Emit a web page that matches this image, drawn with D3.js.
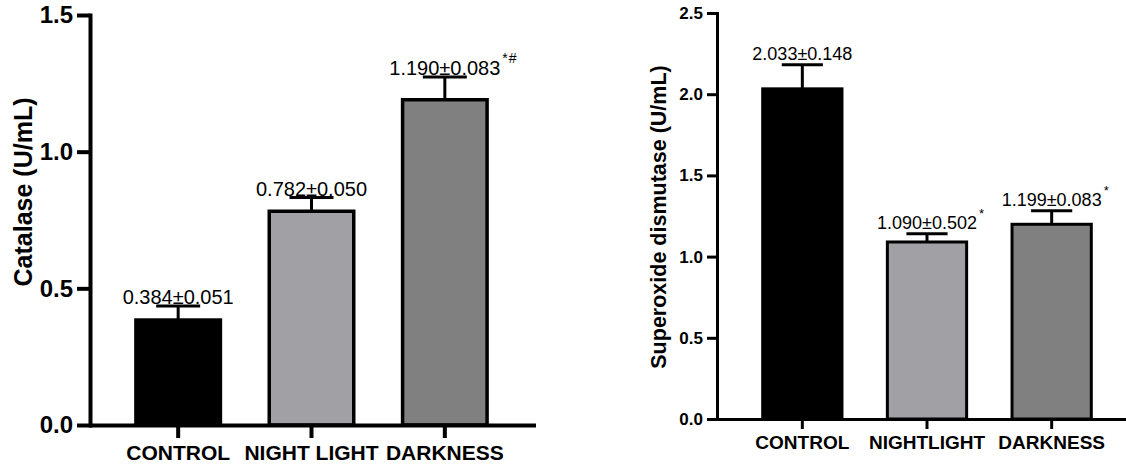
<!DOCTYPE html>
<html>
<head>
<meta charset="utf-8">
<script src="https://cdn.jsdelivr.net/npm/d3@7"></script>
<style>
  body { margin: 0; background: #fff; }
  svg text { font-family: "Liberation Sans", Arial, sans-serif; fill: #000; }
</style>
</head>
<body>
<svg width="1126" height="465"></svg>
<script>
// data
const catalaseGroups = ["CONTROL", "NIGHT LIGHT", "DARKNESS"];
const catalaseMeans = [0.384, 0.782, 1.190];
const catalaseErrors = [0.051, 0.050, 0.083];
const catalaseSig = ["", "", "*#"];
const catalaseTicks = [0, 0.5, 1.0, 1.5];

const sodGroups = ["CONTROL", "NIGHTLIGHT", "DARKNESS"];
const sodMeans = [2.033, 1.090, 1.199];
const sodErrors = [0.148, 0.502, 0.083];     // as printed in the labels
const sodErrorBars = [0.148, 0.050, 0.083];  // as drawn (whisker length)
const sodSig = ["", "*", "*"];
const sodTicks = [0, 0.5, 1.0, 1.5, 2.0, 2.5];

const fills = ["#000000", "#a1a1a5", "#808080"];
const fmt = d3.format(".3f");

const svg = d3.select("svg");

function drawPanel(c) {
  let y = d3.scaleLinear().domain([0, c.ticks[c.ticks.length - 1]])
    .range([c.yBottom, c.yTop]);
  let x = d3.scaleBand().domain(c.groups)
    .range(c.xRange).paddingInner(0.34).paddingOuter(0.17);

  let rows = c.groups.map((g, i) => ({
    g: g, mean: c.means[i], err: c.errors[i], bar: c.bars[i], sig: c.sig[i], fill: fills[i]
  }));

  let g = svg.append("g");

  // bars
  g.selectAll("rect.bar")
    .data(rows)
    .join("rect")
    .attr("class", "bar")
    .attr("x", d => x(d.g) + c.barStroke / 2)
    .attr("y", d => y(d.mean))
    .attr("width", x.bandwidth() - c.barStroke)
    .attr("height", d => y(0) - y(d.mean))
    .style("fill", d => d.fill)
    .style("stroke", "#000")
    .style("stroke-width", c.barStroke);

  // error whiskers
  let cx = d => x(d.g) + x.bandwidth() / 2;
  g.selectAll("line.stem")
    .data(rows)
    .join("line")
    .attr("class", "stem")
    .attr("x1", cx).attr("x2", cx)
    .attr("y1", d => y(d.mean))
    .attr("y2", d => y(d.mean + d.bar))
    .style("stroke", "#000").style("stroke-width", c.errW);
  g.selectAll("line.cap")
    .data(rows)
    .join("line")
    .attr("class", "cap")
    .attr("x1", d => cx(d) - x.bandwidth() / 4)
    .attr("x2", d => cx(d) + x.bandwidth() / 4)
    .attr("y1", d => y(d.mean + d.bar))
    .attr("y2", d => y(d.mean + d.bar))
    .style("stroke", "#000").style("stroke-width", c.errW);

  // value labels
  let labels = g.selectAll("text.val")
    .data(rows)
    .join("text")
    .attr("class", "val")
    .attr("x", cx)
    .attr("y", d => y(d.mean + d.bar) - c.labelGap)
    .attr("text-anchor", "middle")
    .style("font-size", c.valFont + "px")
    .text(d => fmt(d.mean) + "±" + fmt(d.err));

  labels.each(function(d) {
    if (!d.sig) return;
    let w = this.getComputedTextLength();
    g.append("text")
      .attr("x", cx(d) + w / 2 + 2)
      .attr("y", y(d.mean + d.bar) - c.labelGap - c.supRise)
      .style("font-size", c.supFont + "px")
      .style("letter-spacing", "1px")
      .text(d.sig);
  });

  // y axis
  let yAxis = d3.axisLeft(y).tickValues(c.ticks).tickFormat(d3.format(".1f"))
    .tickSize(c.tickLen).tickSizeOuter(0).tickPadding(4);
  let ya = g.append("g")
    .attr("transform", `translate(${c.axisX},0)`)
    .call(yAxis);
  ya.select(".domain").style("stroke-width", c.axisW).style("stroke-linecap", "square");
  ya.selectAll(".tick line").style("stroke-width", c.axisW);
  ya.selectAll(".tick text")
    .style("font-size", c.tickFont + "px").style("font-weight", "bold")
    .style("font-family", "'Liberation Sans', Arial, sans-serif");

  // x axis
  let xAxis = d3.axisBottom(x).tickSize(c.tickLen).tickSizeOuter(0).tickPadding(c.catPad);
  let xa = g.append("g")
    .attr("transform", `translate(0,${c.yBottom})`)
    .call(xAxis);
  xa.select(".domain")
    .attr("d", `M${c.axisX},0.5H${c.xEnd}`)
    .style("stroke-width", c.axisW);
  xa.selectAll(".tick line").style("stroke-width", c.axisW);
  xa.selectAll(".tick text")
    .style("font-size", c.catFont + "px").style("font-weight", "bold")
    .style("font-family", "'Liberation Sans', Arial, sans-serif");

  // axis title
  g.append("text")
    .attr("transform", `translate(${c.titleX},${c.titleY}) rotate(-90)`)
    .attr("text-anchor", "middle")
    .attr("dominant-baseline", "central")
    .style("font-size", c.titleFont + "px")
    .style("font-weight", "bold")
    .text(c.title);
}

drawPanel({
  groups: catalaseGroups, means: catalaseMeans, errors: catalaseErrors,
  bars: catalaseErrors, sig: catalaseSig, ticks: catalaseTicks,
  title: "Catalase (U/mL)",
  yTop: 15, yBottom: 425, axisX: 90, xRange: [111.5, 511.5], xEnd: 536,
  axisW: 4, tickLen: 13, tickFont: 24, catFont: 21, catPad: 7,
  titleFont: 25, titleX: 23, titleY: 192,
  valFont: 20, barStroke: 3.5, errW: 3, labelGap: 2, supFont: 14, supRise: 12
});

drawPanel({
  groups: sodGroups, means: sodMeans, errors: sodErrors,
  bars: sodErrorBars, sig: sodSig, ticks: sodTicks,
  title: "Superoxide dismutase (U/mL)",
  yTop: 13, yBottom: 419, axisX: 717, xRange: [740, 1114], xEnd: 1126,
  axisW: 3, tickLen: 10, tickFont: 17, catFont: 19, catPad: 7,
  titleFont: 21.5, titleX: 659, titleY: 217,
  valFont: 18, barStroke: 3, errW: 3, labelGap: 5, supFont: 13, supRise: 11
});
</script>
</body>
</html>
